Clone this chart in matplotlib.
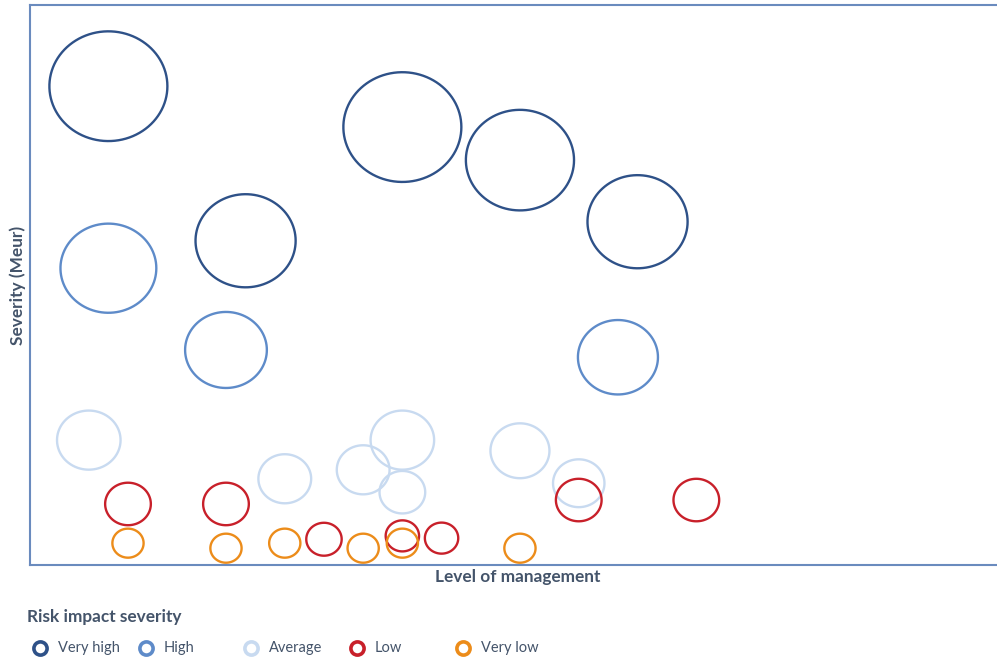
import numpy as np
import matplotlib.pyplot as plt
from matplotlib.path import Path
from matplotlib.lines import Line2D

# Risk bubbles per impact class: level of management, severity, bubble size
very_high_x = [4, 19, 25, 31, 11]
very_high_y = [85.5, 78.2, 72.3, 61.3, 57.9]
very_high_s = [100, 100, 84, 72, 72]

high_x = [4, 10, 30]
high_y = [53.0, 38.4, 37.1]
high_s = [66, 48, 46]

average_x = [3, 13, 17, 19, 19, 25, 28]
average_y = [22.3, 15.4, 17.0, 22.3, 13.0, 20.4, 14.6]
average_s = [29, 20, 20, 29, 15, 25, 19]

low_x = [5, 10, 15, 19, 21, 28, 34]
low_y = [10.9, 10.9, 4.6, 5.2, 4.8, 11.6, 11.6]
low_s = [15, 15, 9, 8, 8, 15, 15]

very_low_x = [5, 10, 13, 17, 19, 25]
very_low_y = [3.9, 3.0, 3.9, 3.0, 3.9, 3.0]
very_low_s = [7, 7, 7, 7, 7, 7]

categories = ["Very high", "High", "Average", "Low", "Very low"]
colors = ["#2E5188", "#5E8BC9", "#C8DAF0", "#C8202A", "#EC8C1A"]

series = [
    (very_high_x, very_high_y, very_high_s),
    (high_x, high_y, high_s),
    (average_x, average_y, average_s),
    (low_x, low_y, low_s),
    (very_low_x, very_low_y, very_low_s),
]

plt.rcParams['font.family'] = ['Lato', 'DejaVu Sans']
text_col = "#44546A"

# slightly flattened circle, the bubbles are a bit wider than tall
t = np.linspace(0, 2 * np.pi, 100)
ellipse = Path(np.column_stack([np.cos(t), 0.93 * np.sin(t)]), closed=True)

fig = plt.figure(figsize=(9.97, 6.6), dpi=100)
ax = fig.add_axes([30 / 997, 95 / 660, 975 / 997, 560 / 660])

max_d = 118  # biggest bubble width in pixels
max_s = max(very_high_s)
for (xs, ys, ss), col in zip(series, colors):
    d_px = max_d * np.sqrt(np.array(ss) / max_s)
    ax.scatter(xs, ys, s=(d_px * 72 / 100) ** 2, marker=ellipse,
               facecolors='none', edgecolors=col, linewidths=1.7)

ax.set_xlim(0, 49.75)
ax.set_ylim(0, 100)
ax.set_xticks([])
ax.set_yticks([])
for side in ['left', 'bottom', 'top']:
    ax.spines[side].set_color('#6A8BBE')
    ax.spines[side].set_linewidth(1.5)
ax.spines['right'].set_visible(False)

ax.set_xlabel('Level of management', fontsize=12.4, fontweight='bold',
              color=text_col, labelpad=3)
ax.set_ylabel('Severity (Meur)', fontsize=12.4, fontweight='bold',
              color=text_col, labelpad=3)

# legend drawn by hand with evenly spaced entries
fig.text(27 / 997, 1 - 617 / 660, 'Risk impact severity', fontsize=12.4,
         fontweight='bold', color=text_col, va='center', ha='left')
for i, (name, col) in enumerate(zip(categories, colors)):
    mx = (40 + 105.7 * i) / 997
    my = 1 - 648 / 660
    fig.add_artist(Line2D([mx], [my], marker='o', markersize=9.5,
                          markerfacecolor='white', markeredgecolor=col,
                          markeredgewidth=2.6, transform=fig.transFigure))
    fig.text(mx + 18 / 997, my, name, fontsize=10.5, color=text_col,
             va='center', ha='left')

fig.savefig('out.png', dpi=100)
